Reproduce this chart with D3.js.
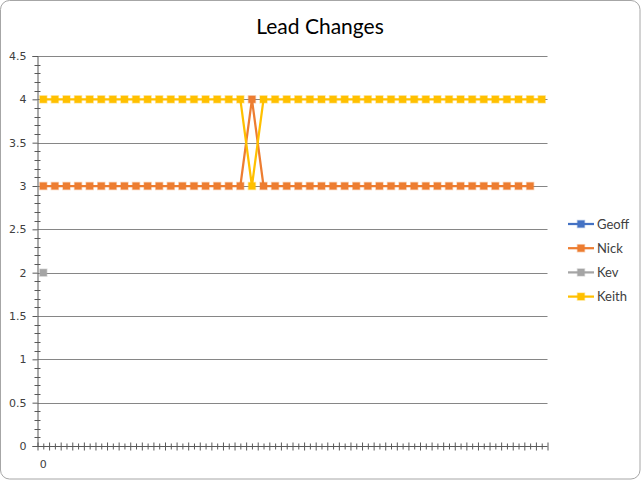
<!DOCTYPE html>
<html><head><meta charset="utf-8">
<script src="https://cdn.jsdelivr.net/npm/d3@7/dist/d3.min.js"></script>
<style>body{margin:0;background:#fff}svg{display:block}</style>
</head><body>
<script>
const title = "Lead Changes";
const seriesNames = ["Geoff","Nick","Kev","Keith"];
const colors = ["#4472C4","#ED7D31","#A5A5A5","#FFC000"];
const categoryCount = 44;
const xTickLabels = ["0"];
const yTicks = [0,0.5,1,1.5,2,2.5,3,3.5,4,4.5];
const geoff = [];
const nick = [3,3,3,3,3,3,3,3,3,3,3,3,3,3,3,3,3,3,4,3,3,3,3,3,3,3,3,3,3,3,3,3,3,3,3,3,3,3,3,3,3,3,3];
const kev = [2];
const keith = [4,4,4,4,4,4,4,4,4,4,4,4,4,4,4,4,4,4,3,4,4,4,4,4,4,4,4,4,4,4,4,4,4,4,4,4,4,4,4,4,4,4,4,4];
const seriesValues = [geoff, nick, kev, keith];

const W = 641, H = 480;
const svg = d3.select("body").append("svg").attr("width", W).attr("height", H);
svg.append("rect").attr("x",0.5).attr("y",0.5).attr("width",W-1.5).attr("height",H-1.5)
  .attr("rx",9).attr("fill","#fff").attr("stroke","#a6a6a6").attr("stroke-width",1);

const L = 37.5, R = 547.5, T = 56, B = 446;
const x = d3.scaleBand().domain(d3.range(categoryCount)).range([L, R]).padding(0);
const xc = i => x(i) + x.bandwidth()/2;
const xb = d3.scaleLinear().domain([0, categoryCount]).range([L, R]);
const y = d3.scaleLinear().domain([0, 4.5]).range([B, T]);

// title
svg.append("text").attr("x", 320).attr("y", 34).attr("text-anchor","middle")
  .attr("font-family","Lato, 'Open Sans', sans-serif").attr("font-size", 21).attr("fill","#000").text(title);

// gridlines
svg.append("g").selectAll("line").data(yTicks.filter(v => v > 0)).join("line")
  .attr("x1", L).attr("x2", R).attr("y1", d => Math.round(y(d))+0.5).attr("y2", d => Math.round(y(d))+0.5)
  .attr("stroke","#868686").attr("stroke-width",1.2);

// y axis minor ticks
const yMinor = d3.range(0, 4.5001, 0.1).filter(v => Math.abs(v*2 - Math.round(v*2)) > 1e-6);
const yAxisG = svg.append("g").attr("transform", `translate(${L},0)`);
yAxisG.selectAll("line.minor").data(yMinor).join("line").attr("class","minor")
  .attr("x1",-3).attr("x2",3).attr("y1", d => Math.round(y(d))+0.5).attr("y2", d => Math.round(y(d))+0.5)
  .attr("stroke","#595959").attr("stroke-width",1);
const yAxis = d3.axisLeft(y).tickValues(yTicks).tickSize(5).tickPadding(6).tickFormat(d3.format("~g"));
yAxisG.call(yAxis);
yAxisG.select(".domain").attr("stroke","#595959");
yAxisG.selectAll(".tick line").attr("stroke","#595959");
yAxisG.selectAll(".tick text").attr("font-family","'DejaVu Sans', Verdana, sans-serif").attr("font-size",11).attr("fill","#404040");

// x axis ticks
const xAxisG = svg.append("g").attr("transform", `translate(0,${B+0.5})`);
const xAxis = d3.axisBottom(xb).tickValues(d3.range(0, categoryCount + 0.01, 0.5)).tickFormat("");
xAxisG.call(xAxis);
xAxisG.select(".domain").attr("stroke","#595959").attr("d", `M${L},0H${R}`);
xAxisG.selectAll(".tick line").attr("stroke","#595959")
  .attr("y1", d => Number.isInteger(d) ? -4 : -3).attr("y2", d => Number.isInteger(d) ? 4 : 3);
svg.append("g").selectAll("text").data(xTickLabels).join("text")
  .attr("x", (d,i) => xc(i)).attr("y", 468).attr("text-anchor","middle")
  .attr("font-family","'DejaVu Sans', Verdana, sans-serif").attr("font-size",11).attr("fill","#404040").text(d => d);

// series
const line = d3.line().x((d,i) => xc(i)).y(d => y(d));
seriesValues.forEach((vals, s) => {
  const g = svg.append("g");
  if (vals.length > 1) g.append("path").datum(vals).attr("d", line).attr("fill","none")
    .attr("stroke", colors[s]).attr("stroke-width",2.25).attr("stroke-linejoin","round");
  g.selectAll("rect").data(vals).join("rect")
    .attr("x", (d,i) => xc(i)-3.5).attr("y", d => y(d)-3.5).attr("width",7).attr("height",7)
    .attr("fill", colors[s]).attr("stroke", colors[s]).attr("stroke-opacity",0.35).attr("stroke-width",1.5);
});

// legend
const lg = svg.append("g");
seriesNames.forEach((n, i) => {
  const yy = 224 + i*24.2;
  lg.append("line").attr("x1",568).attr("x2",594).attr("y1",yy).attr("y2",yy).attr("stroke",colors[i]).attr("stroke-width",2.25);
  lg.append("rect").attr("x",577.5).attr("y",yy-3.5).attr("width",7).attr("height",7).attr("fill",colors[i])
    .attr("stroke",colors[i]).attr("stroke-opacity",0.35).attr("stroke-width",1.5);
  lg.append("text").attr("x",597).attr("y",yy+4.5).attr("font-family","Lato, 'Open Sans', sans-serif")
    .attr("font-size",13).attr("fill","#404040").text(n);
});
</script>
</body></html>
